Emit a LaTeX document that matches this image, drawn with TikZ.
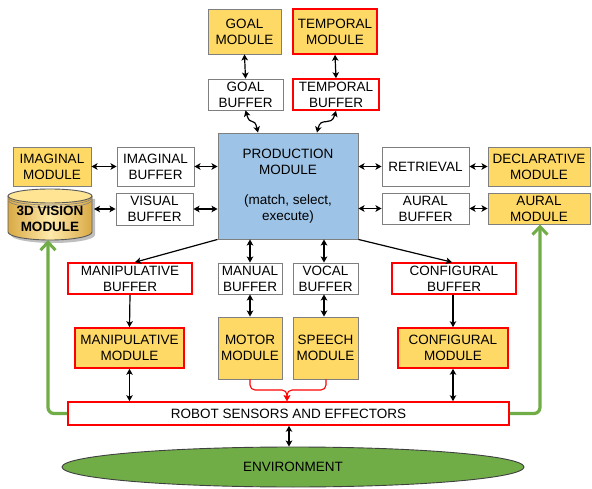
\documentclass[tikz,border=0pt]{standalone}
\usepackage{fontspec}
\setmainfont{Liberation Sans}
\usetikzlibrary{arrows.meta,shapes.geometric}
\definecolor{modfill}{HTML}{FFD966}
\definecolor{prodfill}{HTML}{9DC3E6}
\definecolor{envgreen}{HTML}{70AD47}
\definecolor{edgegray}{HTML}{7F7F7F}
\definecolor{alertred}{HTML}{FF0000}
\tikzset{
  txt/.style={font=\fontsize{13.5}{16}\selectfont, align=center, inner sep=0pt},
  wbox/.style={txt, draw=edgegray, line width=0.9pt, fill=white},
  ybox/.style={txt, draw=edgegray, line width=0.9pt, fill=modfill},
  rbox/.style={txt, draw=alertred, line width=1.6pt, fill=white},
  rybox/.style={txt, draw=alertred, line width=1.6pt, fill=modfill},
  sz/.style 2 args={minimum width=#1pt, minimum height=#2pt},
  dbl/.style={{Stealth[length=6pt,width=6.5pt,inset=1.5pt]}-{Stealth[length=6pt,width=6.5pt,inset=1.5pt]}, line width=1.2pt, black},
  one/.style={-{Stealth[length=6pt,width=6.5pt,inset=1.5pt]}, line width=1.2pt, black},
  redline/.style={-{Stealth[length=6pt,width=6.5pt,inset=1.5pt]}, line width=1.1pt, alertred, rounded corners=5pt},
  feedback/.style={-{Straight Barb[length=8pt,width=15pt,line width=3pt]}, line width=3.2pt, envgreen, rounded corners=6pt},
}
\begin{document}
\begin{tikzpicture}[x=1pt,y=-1pt]
\useasboundingbox (0,0) rectangle (592,489);

% goal and temporal
\node[ybox, sz={73}{45}] (goalM) at (244.5,31.5) {GOAL\\MODULE};
\node[rybox, sz={84}{45}] (tempM) at (335,31.5) {TEMPORAL\\MODULE};
\node[wbox, sz={75}{31}] (goalB) at (245.5,94.5) {GOAL\\BUFFER};
\node[rbox, sz={86}{31}] (tempB) at (336,94.5) {TEMPORAL\\BUFFER};

% production module
\node[txt, draw=edgegray, line width=0.9pt, fill=prodfill, sz={140}{106}] (prod) at (288,186)
  {PRODUCTION\\MODULE\\[14pt](match, select,\\execute)};

% left side
\node[ybox, sz={78}{39}] (imgM) at (52,166.5) {IMAGINAL\\MODULE};
\node[wbox, sz={77}{39}] (imgB) at (155.5,166.5) {IMAGINAL\\BUFFER};
\node[wbox, sz={77}{32}] (visB) at (154.5,209) {VISUAL\\BUFFER};

% 3D vision cylinder
\fill[black!25] (11,199) -- (11,235) arc[start angle=180, end angle=360, x radius=42pt, y radius=8pt] -- (95,199) -- cycle;
\shade[left color=modfill!80!orange!85!black, right color=modfill!80!orange!85!black, middle color=modfill!55!white]
  (8,196) -- (8,232) arc[start angle=180, end angle=360, x radius=42pt, y radius=8pt] -- (92,196) -- cycle;
\draw[edgegray!70!black, line width=0.9pt]
  (8,196) -- (8,232) arc[start angle=180, end angle=360, x radius=42pt, y radius=8pt] -- (92,196);
\draw[edgegray!70!black, line width=0.9pt, fill=modfill!70!white] (50,196) ellipse[x radius=42pt, y radius=7pt];
\draw[edgegray, line width=0.6pt] (9,198.5) arc[start angle=180, end angle=360, x radius=41pt, y radius=6.5pt];
\draw[edgegray, line width=0.6pt] (9,201) arc[start angle=180, end angle=360, x radius=41pt, y radius=6.5pt];
\node[txt, font=\fontsize{13.5}{16}\selectfont\bfseries, minimum width=84pt, minimum height=44pt] (vis) at (50,219) {3D VISION\\MODULE};
\coordinate (visE) at (94,209);
\coordinate (visS) at (48,240);

% right side
\node[wbox, sz={87}{39}] (ret) at (425.5,166.5) {RETRIEVAL};
\node[ybox, sz={102}{39}] (decl) at (539,166.5) {DECLARATIVE\\MODULE};
\node[wbox, sz={87}{31}] (auB) at (425.5,208.5) {AURAL\\BUFFER};
\node[ybox, sz={102}{31}] (auM) at (539,208.5) {AURAL\\MODULE};

% lower buffers
\node[rbox, sz={124}{31}] (manipB) at (130,278.5) {MANIPULATIVE\\BUFFER};
\node[wbox, sz={64}{31}] (manualB) at (250,278.5) {MANUAL\\BUFFER};
\node[wbox, sz={65}{31}] (vocalB) at (325.5,278.5) {VOCAL\\BUFFER};
\node[rbox, sz={124}{31}] (confB) at (454,278.5) {CONFIGURAL\\BUFFER};

% lower modules
\node[rybox, sz={109}{40}] (manipM) at (129.5,348) {MANIPULATIVE\\MODULE};
\node[ybox, sz={64}{62}] (motor) at (250,348) {MOTOR\\MODULE};
\node[ybox, sz={65}{62}] (speech) at (325.5,348) {SPEECH\\MODULE};
\node[rybox, sz={110}{40}] (confM) at (453,348) {CONFIGURAL\\MODULE};

% robot and environment
\node[rbox, sz={441}{23}] (robot) at (288.5,413.5) {ROBOT SENSORS AND EFFECTORS};
\node[txt, ellipse, draw=black!75, line width=0.9pt, fill=envgreen, minimum width=462pt, minimum height=40pt] (env) at (293,467) {ENVIRONMENT};

% connectors: top
\draw[dbl] (goalM.south) -- (goalB.north);
\draw[dbl] (tempM.south) -- (tempB.north);
\draw[dbl] (goalB.south) .. controls +(5,17) and +(-4,-17) .. (prod.north -| 258,0);
\draw[dbl] (tempB.south) .. controls +(-5,17) and +(4,-17) .. (prod.north -| 317,0);

% connectors: sides
\draw[dbl] (imgM.east) -- (imgB.west);
\draw[dbl] (imgB.east) -- (imgB.east -| prod.west);
\draw[dbl] (visE) -- (visB.west);
\draw[dbl] (visB.east) -- (visB.east -| prod.west);
\draw[dbl] (ret.west -| prod.east) -- (ret.west);
\draw[dbl] (ret.east) -- (decl.west);
\draw[dbl] (auB.west -| prod.east) -- (auB.west);
\draw[dbl] (auB.east) -- (auM.west);

% connectors: downward
\draw[one] (prod.south west) -- (manipB.north -| 135,0);
\draw[one] (prod.south east) -- (confB.north -| 452,0);
\draw[dbl] (prod.south -| manualB.north) -- (manualB.north);
\draw[dbl] (prod.south -| 324,0) -- (vocalB.north -| 324,0);
\draw[dbl] (manualB.south) -- (motor.north);
\draw[dbl] (vocalB.south -| 324,0) -- (speech.north -| 324,0);
\draw[one] (manipB.south) -- (manipM.north);
\draw[one] (confB.south -| confM.north) -- (confM.north);
\draw[dbl] (manipM.south) -- (robot.north -| manipM.south);
\draw[dbl] (confM.south) -- (robot.north -| confM.south);
\draw[dbl] (robot.south -| 289,0) -- (env.north -| 289,0);

% motor and speech outputs merging into the effectors
\draw[redline] (motor.south) -- (250,390) -- (287,390) -- (robot.north -| 287,0);
\draw[redline] (speech.south -| 326,0) -- (326,390) -- (287,390) -- (robot.north -| 287,0);

% sensory feedback
\draw[feedback] (robot.west) -- (48,413.5) -- (visS);
\draw[feedback] (robot.east) -- (540,413.5) -- (auM.south -| 540,0);
\end{tikzpicture}
\end{document}
